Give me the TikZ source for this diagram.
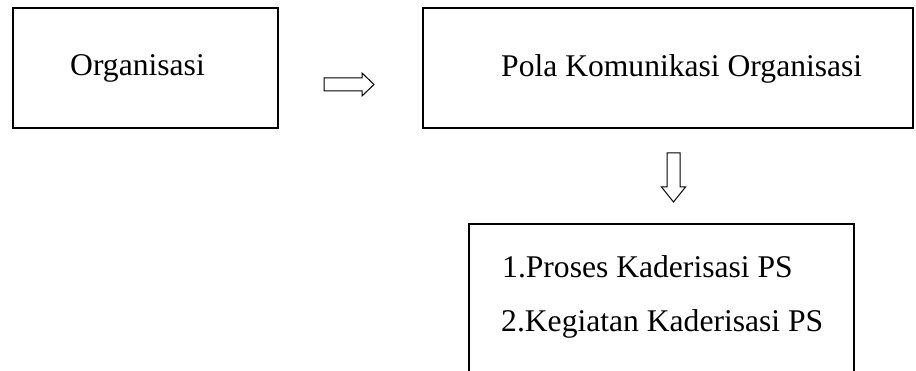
\documentclass[tikz,border=0pt]{standalone}
\usepackage{fontspec}
\setmainfont{Liberation Serif}
\begin{document}
\begin{tikzpicture}[x=1pt,y=-1pt,
  box/.style={draw, line width=1.1pt, inner sep=0pt},
  lbl/.style={inner sep=0pt, anchor=base west, font=\fontsize{31.6}{38}\selectfont},
  blockarrow/.style={draw, line width=1pt, line join=miter, fill=white}]
\clip (0,0) rectangle (916,371);
\useasboundingbox (0,0) rectangle (916,371);
% boxes
\node[box, minimum width=265pt, minimum height=120pt] (b1) at (145.5,68) {};
\node[box, minimum width=490pt, minimum height=120pt] (b2) at (668,68) {};
\node[box, minimum width=385pt, minimum height=166pt] (b3) at (661.5,307) {};
% texts
\node[lbl] (t1) at (70,76) {Organisasi};
\node[lbl] (t2) at (501,77) {Pola Komunikasi Organisasi};
\node[lbl] (t3) at (502,278) {1.Proses Kaderisasi PS};
\node[lbl] (t4) at (501,332) {2.Kegiatan Kaderisasi PS};
% block arrows
\draw[blockarrow] (324,78) -- (362,78) -- (362,73) -- (374,84.5) -- (362,96) -- (362,91) -- (324,91) -- cycle;
\draw[blockarrow] (667,153) -- (680,153) -- (680,187) -- (685.5,187) -- (673.5,202) -- (661.5,187) -- (667,187) -- cycle;
\end{tikzpicture}
\end{document}
